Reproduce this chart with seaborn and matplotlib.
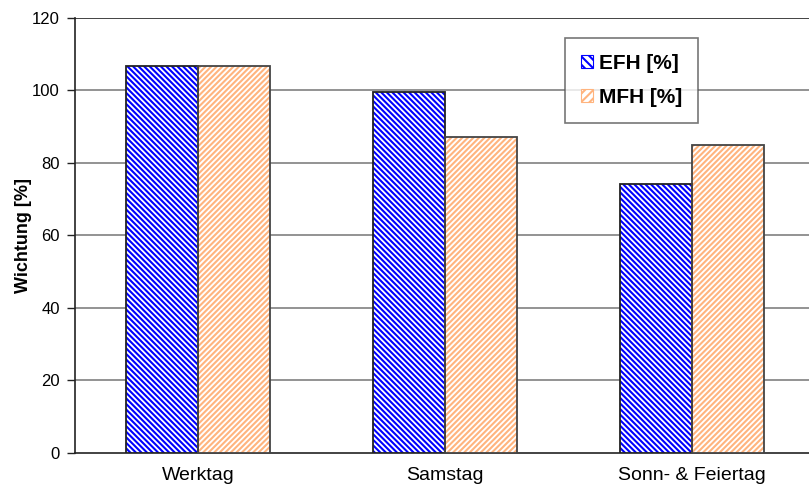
import matplotlib
matplotlib.use("Agg")
import matplotlib.pyplot as plt
import seaborn as sns
import pandas as pd
from matplotlib.patches import Patch

categories = ["Werktag", "Samstag", "Sonn- & Feiertag"]
series_names = ["EFH [%]", "MFH [%]"]
efh = [106.5, 99.5, 74.0]
mfh = [106.5, 87.0, 85.0]
yticks = [0, 20, 40, 60, 80, 100, 120]

df = pd.DataFrame({
    "Tag": categories * 2,
    "Serie": [series_names[0]] * 3 + [series_names[1]] * 3,
    "Wert": efh + mfh,
})

sns.set_theme(style="white")
plt.rcParams["font.family"] = ["Liberation Sans", "DejaVu Sans"]
plt.rcParams["hatch.linewidth"] = 1.5

hatch_cols = {"EFH [%]": "#0000FF", "MFH [%]": "#FFB47E"}
hatches = {"EFH [%]": "\\" * 6, "MFH [%]": "/" * 6}

fig = plt.figure(figsize=(8.09, 4.97), dpi=100)
ax = fig.add_axes([75 / 809, 44 / 497, 740 / 809, 435.5 / 497])

sns.barplot(data=df, x="Tag", y="Wert", hue="Serie", hue_order=series_names,
            order=categories, palette=["white", "white"], width=0.585, gap=0,
            ax=ax, legend=False, linewidth=0, zorder=3)

n = len(categories)
for i, p in enumerate(ax.patches):
    s = series_names[i // n]
    p.set_hatch(hatches[s])
    p.set_edgecolor(hatch_cols[s])
    p.set_linewidth(0)

sns.barplot(data=df, x="Tag", y="Wert", hue="Serie", hue_order=series_names,
            order=categories, width=0.585, gap=0, fill=False,
            palette=["#222222", "#444444"], linewidth=1.3,
            ax=ax, legend=False, zorder=4)

ax.set_ylim(0, 120)
ax.set_yticks(yticks)
ax.set_xlim(-0.5, 2.5)
for y in yticks[1:]:
    ax.axhline(y, color="#808080" if y != 120 else "#222222", lw=1.2, zorder=1)

for sp in ["top", "right"]:
    ax.spines[sp].set_visible(False)
ax.spines["left"].set_color("#222222")
ax.spines["bottom"].set_color("#222222")
ax.spines["left"].set_linewidth(1.2)
ax.spines["bottom"].set_linewidth(1.2)

ax.tick_params(axis="y", which="both", left=True, length=6, width=1, color="#222222",
               labelsize=12, pad=5, direction="out", labelcolor="black")
ax.tick_params(axis="x", length=0, labelsize=14, pad=10, labelcolor="black")
ax.set_xlabel("")
ax.set_ylabel("Wichtung [%]", fontsize=13, fontweight="bold", labelpad=0, color="black")

handles = [Patch(facecolor="white", edgecolor=hatch_cols[s], hatch="\\\\\\\\" if s == series_names[0] else "////",
                 linewidth=0.8)
           for s in series_names]
leg = ax.legend(handles, series_names, loc="upper left", bbox_to_anchor=(0.662, 0.953),
                frameon=True, fancybox=False, prop={"weight": "bold", "size": 15},
                handlelength=0.6, handleheight=0.6, handletextpad=0.3,
                borderpad=0.75, labelspacing=0.75, borderaxespad=0)
leg.get_frame().set_edgecolor("#555555")
leg.get_frame().set_linewidth(1.2)
for t in leg.get_texts():
    t.set_color("black")

fig.savefig("out.png", dpi=100)
